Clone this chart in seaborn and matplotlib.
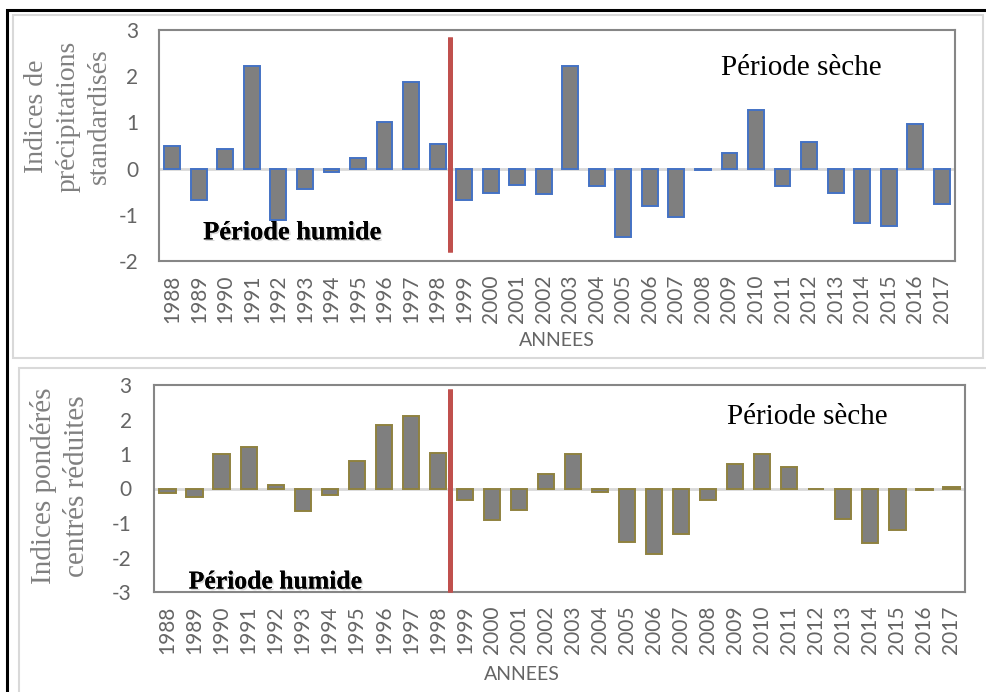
import matplotlib
matplotlib.use('Agg')
import matplotlib.pyplot as plt
import matplotlib.patheffects as pe
from matplotlib.patches import Rectangle
import seaborn as sns
import pandas as pd

# data
years = [str(y) for y in range(1988, 2018)]
spi = [0.48, -0.69, 0.43, 2.21, -1.12, -0.45, -0.07, 0.24, 1.00, 1.88,
       0.53, -0.67, -0.52, -0.36, -0.56, 2.23, -0.38, -1.49, -0.82, -1.05,
       -0.03, 0.33, 1.26, -0.38, 0.58, -0.53, -1.18, -1.25, 0.96, -0.77]
ipcr = [-0.12, -0.24, 1.00, 1.19, 0.09, -0.64, -0.18, 0.81, 1.85, 2.11,
        1.04, -0.33, -0.90, -0.61, 0.42, 1.00, -0.10, -1.56, -1.91, -1.32,
        -0.33, 0.70, 0.99, 0.61, -0.02, -0.89, -1.57, -1.21, -0.05, 0.05]
top_label = 'Indices de\nprécipitations\nstandardisés'
bottom_label = 'Indices pondérés\ncentrés réduites'

sns.set_style('white')
plt.rcParams['axes.unicode_minus'] = False
TICK = '#656565'
SERIF = 'Liberation Serif'

fig = plt.figure(figsize=(9.86, 6.92), dpi=100)

#------------------------------------------------------------------------------------------------------------------------------------------------------

def panel(rect, values, edge, ylim, yticks, lab_pad):
    ax = fig.add_axes(rect)
    df = pd.DataFrame({'annee': years, 'val': values})
    sns.barplot(data=df, x='annee', y='val', color='#7f7f7f', saturation=1,
                edgecolor=edge, linewidth=1.4, width=0.6, ax=ax, zorder=3)
    ax.axhline(0, color='#d9d9d9', lw=2, zorder=2)
    ax.set_ylim(*ylim)
    ax.set_xlim(-0.5, len(years) - 0.5)
    ax.set_yticks(yticks)
    for s in ax.spines.values():
        s.set_color('#868686')
        s.set_linewidth(1.5)
    ax.tick_params(axis='both', length=0, colors=TICK, labelsize=15)
    ax.tick_params(axis='y', pad=lab_pad)
    ax.tick_params(axis='x', pad=10, rotation=90)
    for t in ax.get_xticklabels() + ax.get_yticklabels():
        t.set_fontfamily('Lato')
    ax.set_xlabel('')
    ax.set_ylabel('')
    return ax

# frames around the two panels
fig.add_artist(Rectangle((7 / 986, -0.1), 1.2, 1 - 10 / 692 + 0.1, transform=fig.transFigure,
                         fill=False, edgecolor='black', lw=2.2))
fig.add_artist(Rectangle((13 / 986, 1 - 358 / 692), 970 / 986, 343 / 692, transform=fig.transFigure,
                         fill=False, edgecolor='#d9d9d9', lw=1.5))
fig.add_artist(Rectangle((19 / 986, -0.1), 1.0, 1 - 368 / 692 + 0.1, transform=fig.transFigure,
                         fill=False, edgecolor='#d9d9d9', lw=1.5))

ax1 = panel([159 / 986, 1 - 261 / 692, 796 / 986, 231 / 692], spi, '#4472c4', (-2, 3), range(-2, 4), 15)
ax2 = panel([154 / 986, 1 - 592 / 692, 811 / 986, 207 / 692], ipcr, '#8f8240', (-3, 3), range(-3, 4), 16)

shadow = [pe.withSimplePatchShadow(offset=(1.2, -1.2), shadow_rgbFace='#b0b0b0', alpha=0.5), pe.Normal()]

for ax, ytop, ybot, hum, sec, hs in [(ax1, 2.85, -1.8, (4.52, -1.39), (23.7, 2.18), 19),
                                      (ax2, 2.88, -3.0, (4.0, -2.71), (23.65, 2.07), 18.5)]:
    ax.plot([10.45, 10.45], [ytop, ybot], color='#c0504d', lw=3.5, zorder=5,
            solid_capstyle='butt', clip_on=False, path_effects=shadow)
    ax.text(hum[0], hum[1], 'Période humide', family=SERIF, weight='bold', fontsize=hs,
            ha='center', va='center', color='black', zorder=6, path_effects=shadow)
    ax.text(sec[0], sec[1], 'Période sèche', family=SERIF, fontsize=21,
            ha='center', va='center', color='black', zorder=6)

fig.text(68 / 986, 1 - 116 / 692, top_label, rotation=90, ha='center', va='center',
         multialignment='center', family=SERIF, fontsize=20, color='#808080', linespacing=1.32)
fig.text(60 / 986, 1 - 486 / 692, bottom_label, rotation=90, ha='center', va='center',
         multialignment='center', family=SERIF, fontsize=21, color='#808080', linespacing=1.38)

fig.text(557 / 986, 1 - 340 / 692, 'ANNEES', ha='center', va='center', family='Lato',
         fontsize=14, color=TICK)
fig.text(522 / 986, 1 - 675 / 692, 'ANNEES', ha='center', va='center', family='Lato',
         fontsize=14, color=TICK)

fig.savefig('out.png', dpi=100)
